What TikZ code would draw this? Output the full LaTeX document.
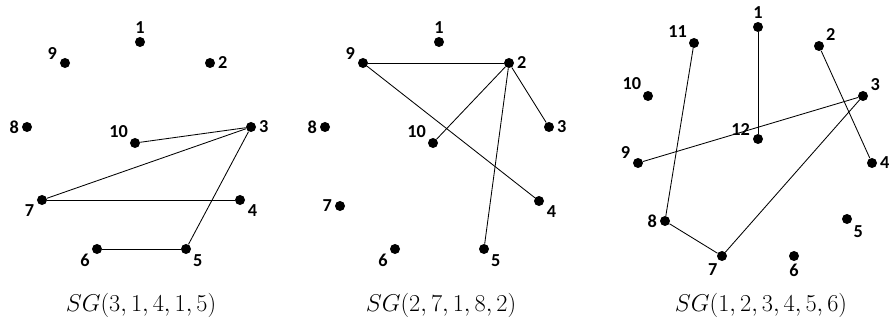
\documentclass[tikz,border=0pt]{standalone}
\usepackage{fontspec}
\usepackage{tikz}
\newfontfamily\lblfont{Carlito}
\usetikzlibrary{positioning}

\begin{document}
\begin{tikzpicture}[x=0.025cm, y=-0.025cm,
    dot/.style={circle, fill=black, inner sep=0pt, minimum size=0.25cm},
    lbl/.style={font=\lblfont\bfseries\fontsize{13}{15}\selectfont, inner sep=1.8pt},
    edge/.style={line width=0.6pt},
    captxt/.style={font=\fontsize{16}{19}\selectfont}]
        \useasboundingbox (0,0) rectangle (896,328);
        % SG(3,1,4,1,5)
        \node[dot, label={[lbl]above:1}]   (a1)  at (140,42)  {};
        \node[dot, label={[lbl]right:2}]   (a2)  at (210,63)  {};
        \node[dot, label={[lbl]right:3}]   (a3)  at (251,127) {};
        \node[dot, label={[lbl]-15:4}]     (a4)  at (240,200) {};
        \node[dot, label={[lbl]-35:5}]     (a5)  at (186,249) {};
        \node[dot, label={[lbl]210:6}]     (a6)  at (97,249)  {};
        \node[dot, label={[lbl]195:7}]     (a7)  at (42,200)  {};
        \node[dot, label={[lbl]left:8}]    (a8)  at (27,127)  {};
        \node[dot, label={[lbl]170:9}]     (a9)  at (65,63)   {};
        \node[dot, label={[lbl]145:10}]    (a10) at (135,143) {};
        \draw[edge] (a10) -- (a3);
        \draw[edge] (a7) -- (a3);
        \draw[edge] (a7) -- (a4);
        \draw[edge] (a3) -- (a5);
        \draw[edge] (a6) -- (a5);
        \node[captxt] (capa) at (141,305) {$SG(3,1,4,1,5)$};
        % SG(2,7,1,8,2)
        \node[dot, label={[lbl]above:1}]   (b1)  at (439,42)  {};
        \node[dot, label={[lbl]right:2}]   (b2)  at (509,63)  {};
        \node[dot, label={[lbl]right:3}]   (b3)  at (549,127) {};
        \node[dot, label={[lbl]-15:4}]     (b4)  at (539,201) {};
        \node[dot, label={[lbl]-35:5}]     (b5)  at (484,249) {};
        \node[dot, label={[lbl]210:6}]     (b6)  at (395,249) {};
        \node[dot, label={[lbl]left:7}]    (b7)  at (340,206) {};
        \node[dot, label={[lbl]left:8}]    (b8)  at (325,127) {};
        \node[dot, label={[lbl]170:9}]     (b9)  at (363,63)  {};
        \node[dot, label={[lbl]145:10}]    (b10) at (433,143) {};
        \draw[edge] (b9) -- (b2);
        \draw[edge] (b9) -- (b4);
        \draw[edge] (b2) -- (b10);
        \draw[edge] (b2) -- (b5);
        \draw[edge] (b2) -- (b3);
        \node[captxt] (capb) at (441,305) {$SG(2,7,1,8,2)$};
        % SG(1,2,3,4,5,6)
        \node[dot, label={[lbl]above:1}]   (c1)  at (758,27)  {};
        \node[dot, label={[lbl]35:2}]      (c2)  at (819,46)  {};
        \node[dot, label={[lbl]25:3}]      (c3)  at (863,96)  {};
        \node[dot, label={[lbl]right:4}]   (c4)  at (872,163) {};
        \node[dot, label={[lbl]-45:5}]     (c5)  at (847,219) {};
        \node[dot, label={[lbl]below:6}]   (c6)  at (794,256) {};
        \node[dot, label={[lbl]-110:7}]    (c7)  at (722,256) {};
        \node[dot, label={[lbl]left:8}]    (c8)  at (665,221) {};
        \node[dot, label={[lbl]165:9}]     (c9)  at (638,163) {};
        \node[dot, label={[lbl]140:10}]    (c10) at (648,96)  {};
        \node[dot, label={[lbl]145:11}]    (c11) at (694,43)  {};
        \node[dot, label={[lbl]170:12}]    (c12) at (758,139) {};
        \draw[edge] (c11) -- (c8);
        \draw[edge] (c8) -- (c7);
        \draw[edge] (c7) -- (c3);
        \draw[edge] (c3) -- (c9);
        \draw[edge] (c1) -- (c12);
        \draw[edge] (c2) -- (c4);
        \node[captxt] (capc) at (761,305) {$SG(1,2,3,4,5,6)$};
      \end{tikzpicture}
\end{document}
